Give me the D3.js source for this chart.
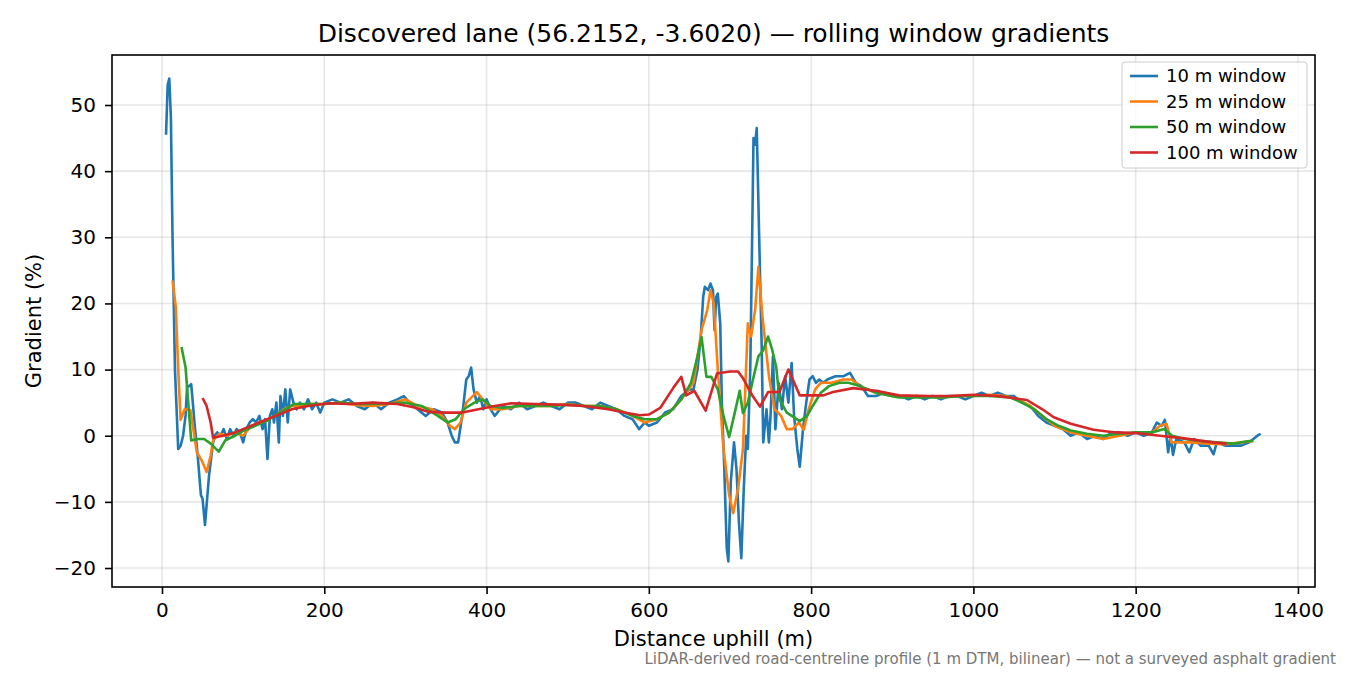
<!DOCTYPE html>
<html><head><meta charset="utf-8">
<script src="https://cdn.jsdelivr.net/npm/d3@7"></script>
<style>body{margin:0;background:#fff}text{font-family:"DejaVu Sans",sans-serif}</style>
</head><body><svg id="c" width="1350" height="675"></svg>
<script>
const seriesNames=["10 m window","25 m window","50 m window","100 m window"];
const colors=["#1f77b4","#ff7f0e","#2ca02c","#d62728"];
const xTicks=[0,200,400,600,800,1000,1200,1400];
const yTicks=[-20,-10,0,10,20,30,40,50];
const w10=[[5,45.5],[7,53],[9,54],[11,48],[13,30],[16,10],[20,-2],[23,-1.5],[26,0],[29,3],[31,7.5],[34,7.5],[36,7.8],[38,5],[40,2],[44,-3],[48,-9],[50,-9.5],[53,-13.5],[56,-9],[58,-6],[60,-4],[63,-1],[65,0],[68,0.5],[72,0],[76,1],[80,-0.5],[84,1],[88,0],[92,1],[96,0.5],[100,-1],[104,1],[108,2],[112,2.5],[116,2],[120,3],[124,1],[127,2.5],[130,-3.5],[133,3],[136,4],[138,2],[141,5],[144,-1],[146,6],[149,3],[152,7],[155,2],[158,7],[162,5],[166,4],[170,5],[175,4],[180,5.5],[185,4],[190,5],[195,3.5],[200,5],[210,5.5],[220,5],[230,5.5],[240,4.5],[250,4],[260,5],[270,4],[280,5],[290,5.5],[298,6],[305,5],[315,4],[325,3],[335,4],[345,3.5],[352,2],[357,0],[361,-1],[365,-1],[370,3],[375,8.5],[378,9],[381,10.3],[384,7],[388,5],[392,6],[396,4],[400,5.5],[405,4],[410,3],[420,4.5],[430,4],[440,5],[450,4],[460,4.5],[470,5],[480,4.5],[490,4],[500,5],[510,5],[520,4.5],[530,4],[540,5],[550,4.5],[560,4],[570,3],[580,2.5],[588,1],[595,2],[600,1.5],[610,2],[620,3.5],[630,4],[640,6],[650,7],[655,7],[660,10],[664,15],[667,21],[669,22.5],[673,22],[676,23],[679,22],[681,16],[683,21],[685,21.5],[688,17],[690,5],[693,-5],[696,-17],[698,-19],[701,-7],[705,-1],[708,-5],[711,-13],[714,-18.5],[717,-8],[720,0],[722,-2],[725,10],[727,27],[729,45],[731,44],[733,46.5],[736,30],[739,14],[741,-1],[745,4],[748,-1],[750,3],[753,12],[756,1],[760,8],[764,4],[768,9],[772,5],[776,11],[779,3],[783,-2],[786,-4.7],[790,1],[794,5],[798,8.5],[802,9],[806,8],[810,8.5],[815,8],[820,8.5],[830,9],[840,9],[848,9.5],[855,8],[862,7.5],[870,6],[880,6],[890,6.5],[900,6],[910,6],[920,5.5],[930,6],[940,5.5],[950,6],[960,5.5],[970,6],[980,6],[990,5.5],[1000,6],[1010,6.5],[1020,6],[1030,6.5],[1040,6],[1050,6],[1060,5],[1070,4.5],[1080,3],[1090,2],[1100,1.5],[1110,1],[1120,0],[1130,0.5],[1140,-0.5],[1150,0],[1160,-0.5],[1170,0.5],[1180,0.5],[1190,0],[1200,0.5],[1210,0],[1220,0.5],[1226,2],[1232,1.5],[1236,2.4],[1240,-2.5],[1243,0],[1246,-2.9],[1250,-0.5],[1260,-1],[1266,-2.5],[1272,-0.5],[1280,-1.5],[1290,-1.5],[1296,-2.8],[1300,-1],[1310,-1.5],[1320,-1.5],[1330,-1.5],[1340,-1],[1350,0],[1354,0.3]];
const w25=[[13,23.5],[17,19.5],[20,10],[23,2.4],[28,4],[35,3.9],[43,-2.5],[50,-4],[55,-5.5],[60,-3],[63,-0.7],[71,0.3],[80,0],[90,0.5],[100,0],[110,1.5],[120,2],[130,2.5],[140,3],[150,4],[160,4.5],[170,4.5],[180,4.8],[200,4.8],[220,5],[240,4.6],[260,4.5],[280,4.8],[300,5.5],[315,4.5],[333,4],[345,3],[355,1.5],[361,1],[368,2],[375,5],[388,6.6],[395,5.5],[405,4],[420,4],[440,4.5],[460,4.5],[480,4.5],[500,4.8],[520,4.5],[540,4.5],[560,4],[580,3],[595,2],[610,2.5],[625,3.5],[640,5.5],[655,8],[665,16],[672,19],[676,22],[680,20],[685,10],[692,-2],[699,-9],[704,-11.7],[710,-8],[716,-2],[722,17],[726,15],[731,19],[735,25.5],[740,18],[748,9],[755,4],[763,3],[770,1],[777,1],[785,2],[791,0.9],[797,4],[805,7],[812,8],[825,8],[840,8.5],[850,8.5],[860,7.5],[880,6.5],[900,6],[920,6],[940,6],[960,5.8],[980,6],[1000,6],[1020,6.2],[1040,6],[1055,5.5],[1070,4.5],[1085,3],[1100,1.5],[1120,0.5],[1140,0],[1160,-0.5],[1180,0],[1200,0.5],[1220,0.5],[1230,1.5],[1238,1.8],[1244,-1],[1255,-1],[1270,-1],[1290,-1.2],[1310,-1.3],[1330,-1],[1345,-0.8]];
const w50=[[24,13.4],[29,10.4],[33,4],[36,-0.7],[45,-0.5],[52,-0.5],[60,-1.2],[70,-2.4],[78,-0.7],[90,0],[101,0.8],[115,1.5],[130,2.3],[145,3.5],[163,4.8],[180,4.8],[200,4.8],[220,5],[240,4.8],[260,4.8],[280,4.9],[300,5],[320,4.5],[340,3],[352,2],[362,2.5],[372,4],[385,5],[395,5.5],[405,4.5],[420,4.2],[440,4.5],[460,4.5],[480,4.5],[500,4.7],[520,4.5],[540,4.5],[560,4],[580,3],[595,2.5],[610,2.5],[625,3.5],[640,5.5],[652,8],[660,12],[665,14.9],[671,8.9],[677,8.9],[685,7],[692,3],[699,-0.2],[705,3],[712,6.8],[716,3.4],[722,5],[728,8.3],[735,12],[741,12.9],[747,15],[752,13],[757,10.4],[761,5.5],[770,3.5],[786,2.2],[795,3],[802,4.5],[812,6.5],[822,7.5],[835,8],[846,8],[860,7.5],[880,6.5],[908,5.8],[930,5.8],[960,5.8],[990,6],[1020,6],[1045,5.8],[1060,5],[1075,4],[1090,2.5],[1105,1.5],[1120,0.8],[1140,0.3],[1160,0],[1180,0.3],[1200,0.5],[1220,0.5],[1235,1],[1245,0],[1260,-0.5],[1280,-0.8],[1300,-1],[1320,-1.2],[1340,-0.8],[1345,-0.8]];
const w100=[[50,5.7],[55,4.5],[60,2],[63,-0.3],[75,0],[90,0.5],[100,1],[120,2],[140,3],[160,4],[180,4.5],[206,4.9],[230,4.8],[260,5],[290,4.8],[310,4.3],[329,3.6],[350,3.5],[370,3.5],[390,4],[410,4.5],[431,4.9],[460,4.8],[490,4.7],[520,4.5],[550,4],[570,3.5],[589,3.1],[600,3.2],[614,4.2],[630,7.2],[640,8.9],[646,6.1],[656,6.8],[670,3.8],[684,9.4],[700,9.7],[710,9.7],[716,8.7],[728,6],[737,4.4],[747,6.6],[761,6.6],[772,10],[786,6.1],[802,6.1],[815,6.1],[827,6.6],[852,7.2],[880,6.8],[908,6.1],[940,6],[970,6],[1000,6.2],[1030,6],[1066,5.4],[1085,4],[1099,2.8],[1120,1.8],[1148,0.9],[1175,0.5],[1200,0.4],[1230,0],[1260,-0.4],[1295,-1],[1312,-1.2]];
const data=[w10,w25,w50,w100];

const svg=d3.select("#c");
const L=112,R=1315,T=55,B=587;
const x=d3.scaleLinear().domain([-61.6,1421]).range([L,R]);
const y=d3.scaleLinear().domain([-22.87,57.56]).range([B,T]);
const g=svg.append("g");
xTicks.forEach(t=>g.append("line").attr("x1",x(t)).attr("x2",x(t)).attr("y1",T).attr("y2",B).attr("stroke","#b0b0b0").attr("stroke-opacity",0.3).attr("stroke-width",1.6));
yTicks.forEach(t=>g.append("line").attr("x1",L).attr("x2",R).attr("y1",y(t)).attr("y2",y(t)).attr("stroke","#b0b0b0").attr("stroke-opacity",0.3).attr("stroke-width",1.6));
const line=d3.line().x(d=>x(d[0])).y(d=>y(d[1]));
data.forEach((d,i)=>svg.append("path").datum(d).attr("d",line).attr("fill","none").attr("stroke",colors[i]).attr("stroke-width",2.6).attr("stroke-linejoin","round"));
svg.append("rect").attr("x",L).attr("y",T).attr("width",R-L).attr("height",B-T).attr("fill","none").attr("stroke","#000").attr("stroke-width",1.6);
const xa=svg.append("g").attr("transform",`translate(0,${B})`).call(d3.axisBottom(x).tickValues(xTicks).tickSize(7).tickPadding(9).tickFormat(d3.format("d")));
const ya=svg.append("g").attr("transform",`translate(${L},0)`).call(d3.axisLeft(y).tickValues(yTicks).tickSize(7).tickPadding(9).tickFormat(d=>d<0?"\u2212"+Math.abs(d):d));
[xa,ya].forEach(a=>{a.select(".domain").remove();a.selectAll("text").attr("font-size",20).attr("font-family","DejaVu Sans").attr("fill","#000");a.selectAll("line").attr("stroke","#000").attr("stroke-width",1.6);});
svg.append("text").attr("x",(L+R)/2).attr("y",42).attr("text-anchor","middle").attr("font-size",25).text("Discovered lane (56.2152, -3.6020) \u2014 rolling window gradients");
svg.append("text").attr("x",(L+R)/2).attr("y",646).attr("text-anchor","middle").attr("font-size",21).text("Distance uphill (m)");
svg.append("text").attr("transform",`translate(41,${(T+B)/2}) rotate(-90)`).attr("text-anchor","middle").attr("font-size",21).text("Gradient (%)");
svg.append("text").attr("x",1336).attr("y",664).attr("text-anchor","end").attr("font-size",15).attr("fill","#777").text("LiDAR-derived road-centreline profile (1 m DTM, bilinear) \u2014 not a surveyed asphalt gradient");
const lg=svg.append("g");
lg.append("rect").attr("x",1122).attr("y",62).attr("width",185).attr("height",106).attr("rx",3).attr("fill","#fff").attr("fill-opacity",0.8).attr("stroke","#ccc");
seriesNames.forEach((n,i)=>{const yy=76+i*25.5;
lg.append("line").attr("x1",1130).attr("x2",1158).attr("y1",yy).attr("y2",yy).attr("stroke",colors[i]).attr("stroke-width",2.6);
lg.append("text").attr("x",1166).attr("y",yy+6).attr("font-size",18).text(n);});
</script></body></html>
